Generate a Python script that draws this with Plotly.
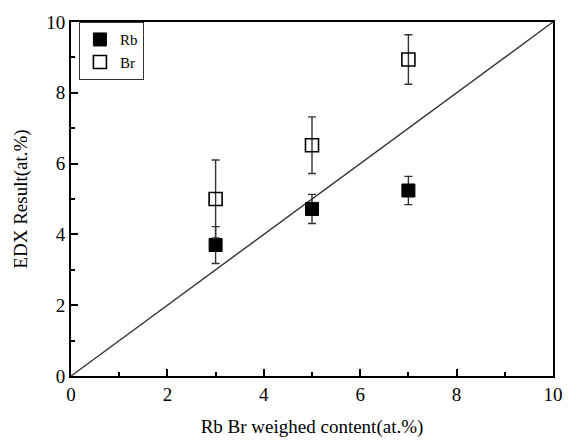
import plotly.graph_objects as go

# Nominal (weighed) content of Rb and Br, at.%
weighed = [3, 5, 7]

# EDX measured content, at.%, with error bars
rb_edx = [3.7, 4.72, 5.24]
rb_err = [0.52, 0.41, 0.40]
br_edx = [5.0, 6.52, 8.94]
br_err = [1.1, 0.8, 0.7]

# Reference line y = x
ref_x = [0, 10]
ref_y = [0, 10]

FONT = "Liberation Serif, Times New Roman, serif"

fig = go.Figure()

fig.add_trace(go.Scatter(
    x=ref_x, y=ref_y, mode="lines",
    line=dict(color="#333333", width=1.4),
    showlegend=False, hoverinfo="skip",
))

fig.add_trace(go.Scatter(
    x=weighed, y=rb_edx, mode="markers", name="Rb",
    marker=dict(symbol="square", size=13, color="black",
                line=dict(color="black", width=1)),
    error_y=dict(type="data", array=rb_err, visible=True,
                 color="#333333", thickness=1.4, width=4),
))

fig.add_trace(go.Scatter(
    x=weighed, y=br_edx, mode="markers", name="Br",
    marker=dict(symbol="square-open", size=13, color="black",
                line=dict(color="black", width=1.6)),
    error_y=dict(type="data", array=br_err, visible=True,
                 color="#333333", thickness=1.4, width=4),
))

axis_common = dict(
    range=[0, 10],
    dtick=2,
    tick0=0,
    ticks="inside",
    ticklen=7,
    tickwidth=1.5,
    tickcolor="black",
    showline=True,
    linecolor="black",
    linewidth=1.8,
    mirror=True,
    showgrid=False,
    zeroline=False,
    tickfont=dict(family=FONT, size=19, color="black"),
    minor=dict(dtick=1, tick0=0, ticks="inside", ticklen=4,
               tickwidth=1.5, tickcolor="black", showgrid=False),
)

fig.update_layout(
    width=575,
    height=446,
    margin=dict(l=71, r=14, t=17, b=67),
    paper_bgcolor="white",
    plot_bgcolor="white",
    font=dict(family=FONT, color="black"),
    xaxis=dict(axis_common,
               title=dict(text="Rb Br weighed content(at.%)",
                          font=dict(family=FONT, size=19), standoff=16)),
    yaxis=dict(axis_common,
               title=dict(text="EDX Result(at.%)",
                          font=dict(family=FONT, size=19), standoff=14)),
    legend=dict(
        x=0.016, y=1.0, xanchor="left", yanchor="top",
        bgcolor="white", bordercolor="#333333", borderwidth=1.2,
        font=dict(family=FONT, size=15, color="black"),
        itemwidth=30, tracegroupgap=0,
    ),
    showlegend=True,
)

fig.write_html("out.html")
